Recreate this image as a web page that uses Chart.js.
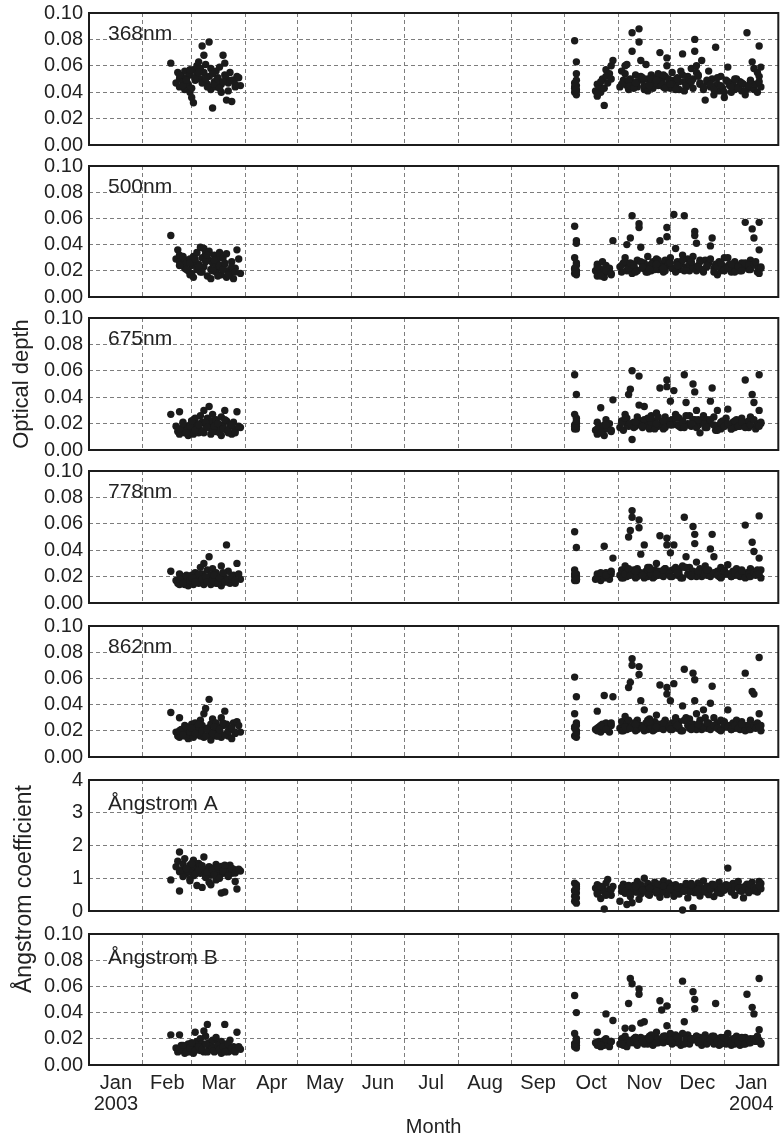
<!DOCTYPE html>
<html>
<head>
<meta charset="utf-8">
<script src="https://cdn.jsdelivr.net/npm/chart.js@4/dist/chart.umd.min.js"></script>
<style>
  html, body { margin: 0; padding: 0; background: #fff; }
  #wrap { position: relative; width: 782px; height: 1140px; overflow: hidden; }
  #wrap canvas { position: absolute; left: 0; }
  .ytitle {
    position: absolute;
    font-family: "Liberation Sans", Arial, Helvetica, sans-serif;
    color: #222;
    white-space: nowrap;
    transform: translate(-50%, -50%) rotate(-90deg);
  }
</style>
</head>
<body>
<div id="wrap"></div>
<script>
// Observation days, counted from 1 Jan 2003 (day 0)
const obsDays = [
  47,50,51,52,52,53,54,55,55,56,
  57,58,58,59,60,60,61,62,62,63,
  64,64,65,66,66,67,68,69,69,70,
  70,71,72,73,73,74,75,76,76,77,
  78,79,79,80,81,82,83,84,85,87,
  279,279,279,279,280,280,280,280,280,280,
  291,292,292,293,294,295,296,296,297,298,
  299,300,301,305,306,307,308,309,309,310,
  311,312,312,313,314,315,316,316,317,318,
  319,320,321,322,323,324,325,326,327,328,
  329,330,331,332,332,333,334,335,336,337,
  338,339,340,341,342,343,344,345,346,347,
  348,348,349,350,351,352,353,354,355,356,
  357,358,359,360,361,362,363,364,365,366,
  367,368,369,370,371,372,373,374,375,376,
  377,378,379,380,381,382,384,385,385,386,
  52,54,56,58,59,61,63,65,67,68,
  71,72,74,75,77,78,80,82,84,86,
  279,280,292,294,297,300,306,308,310,311,
  313,315,317,319,321,323,325,327,329,331,
  333,335,337,339,341,343,345,347,349,351,
  353,355,357,359,361,363,365,367,369,371,
  373,375,377,379,380,382,383,384,386,385,
  314,318,322,326,330,334,338,342,346,350
];

// Aerosol optical depth per wavelength
const tau368 = [
  0.062,0.047,0.055,0.050,0.044,0.052,0.048,0.056,0.042,0.051,
  0.046,0.053,0.040,0.036,0.057,0.032,0.049,0.060,0.054,0.063,
  0.058,0.050,0.075,0.068,0.055,0.061,0.046,0.078,0.052,0.058,
  0.042,0.028,0.048,0.056,0.044,0.051,0.059,0.046,0.040,0.068,
  0.062,0.050,0.034,0.047,0.055,0.033,0.049,0.044,0.052,0.045,
  0.079,0.047,0.043,0.040,0.063,0.054,0.049,0.045,0.041,0.038,
  0.041,0.046,0.037,0.044,0.040,0.050,0.043,0.030,0.057,0.047,
  0.054,0.060,0.064,0.044,0.056,0.049,0.060,0.061,0.045,0.042,
  0.050,0.085,0.071,0.047,0.053,0.044,0.088,0.078,0.064,0.049,
  0.042,0.061,0.050,0.046,0.053,0.043,0.048,0.051,0.045,0.070,
  0.049,0.044,0.052,0.066,0.060,0.047,0.043,0.055,0.049,0.045,
  0.051,0.042,0.056,0.069,0.048,0.044,0.052,0.046,0.058,0.050,
  0.080,0.071,0.060,0.053,0.047,0.064,0.042,0.034,0.048,0.056,
  0.044,0.050,0.038,0.074,0.046,0.041,0.052,0.043,0.036,0.049,
  0.059,0.045,0.040,0.047,0.042,0.050,0.044,0.048,0.041,0.046,
  0.038,0.085,0.043,0.047,0.063,0.058,0.055,0.075,0.052,0.059,
  0.053,0.045,0.049,0.057,0.043,0.051,0.055,0.047,0.050,0.044,
  0.054,0.046,0.050,0.043,0.048,0.053,0.041,0.049,0.046,0.051,
  0.044,0.042,0.039,0.048,0.052,0.050,0.046,0.054,0.049,0.045,
  0.043,0.048,0.052,0.045,0.041,0.050,0.047,0.054,0.046,0.043,
  0.050,0.046,0.042,0.048,0.053,0.045,0.049,0.043,0.055,0.046,
  0.044,0.049,0.046,0.042,0.051,0.045,0.040,0.048,0.044,0.050,
  0.043,0.047,0.041,0.045,0.049,0.042,0.046,0.040,0.044,0.048,
  0.047,0.051,0.045,0.049,0.053,0.046,0.050,0.041,0.048,0.052
];
const tau500 = [
  0.047,0.029,0.036,0.027,0.032,0.025,0.030,0.022,0.028,0.026,
  0.020,0.029,0.017,0.024,0.031,0.015,0.027,0.034,0.021,0.025,
  0.038,0.019,0.030,0.037,0.023,0.033,0.016,0.028,0.035,0.021,
  0.014,0.026,0.032,0.019,0.024,0.029,0.034,0.017,0.022,0.030,
  0.025,0.015,0.033,0.020,0.018,0.027,0.014,0.022,0.036,0.018,
  0.054,0.030,0.022,0.018,0.043,0.041,0.026,0.024,0.020,0.017,
  0.020,0.025,0.016,0.022,0.018,0.027,0.015,0.021,0.024,0.019,
  0.022,0.017,0.043,0.023,0.019,0.026,0.030,0.040,0.020,0.024,
  0.045,0.062,0.018,0.025,0.021,0.028,0.056,0.053,0.038,0.022,
  0.026,0.019,0.031,0.024,0.020,0.027,0.023,0.029,0.021,0.043,
  0.025,0.019,0.028,0.053,0.046,0.024,0.030,0.022,0.063,0.037,
  0.027,0.021,0.025,0.032,0.062,0.023,0.029,0.020,0.026,0.031,
  0.050,0.047,0.041,0.024,0.028,0.021,0.019,0.028,0.023,0.026,
  0.039,0.045,0.022,0.025,0.017,0.027,0.020,0.024,0.030,0.022,
  0.030,0.025,0.019,0.023,0.027,0.021,0.024,0.020,0.026,0.022,
  0.057,0.024,0.021,0.028,0.052,0.045,0.023,0.057,0.036,0.023,
  0.024,0.031,0.021,0.026,0.018,0.029,0.023,0.019,0.027,0.032,
  0.020,0.028,0.016,0.024,0.021,0.026,0.017,0.023,0.019,0.029,
  0.021,0.019,0.023,0.016,0.020,0.018,0.024,0.027,0.022,0.026,
  0.024,0.020,0.027,0.022,0.019,0.025,0.021,0.028,0.023,0.020,
  0.026,0.022,0.019,0.024,0.028,0.021,0.025,0.023,0.020,0.027,
  0.021,0.024,0.029,0.019,0.023,0.026,0.020,0.022,0.025,0.019,
  0.023,0.020,0.026,0.024,0.021,0.025,0.027,0.019,0.022,0.018,
  0.019,0.023,0.021,0.025,0.022,0.026,0.024,0.020,0.027,0.023
];
const tau675 = [
  0.027,0.018,0.014,0.029,0.012,0.016,0.021,0.013,0.018,0.015,
  0.011,0.019,0.014,0.022,0.017,0.012,0.024,0.016,0.020,0.013,
  0.026,0.015,0.021,0.030,0.013,0.019,0.024,0.033,0.017,0.022,
  0.012,0.027,0.018,0.023,0.014,0.020,0.016,0.025,0.011,0.019,
  0.030,0.015,0.022,0.013,0.018,0.012,0.021,0.015,0.029,0.017,
  0.057,0.027,0.019,0.016,0.042,0.024,0.021,0.018,0.016,0.020,
  0.015,0.021,0.012,0.018,0.032,0.014,0.019,0.011,0.023,0.016,
  0.020,0.014,0.038,0.017,0.022,0.015,0.027,0.019,0.024,0.042,
  0.046,0.060,0.008,0.021,0.018,0.025,0.056,0.034,0.022,0.017,
  0.033,0.020,0.024,0.016,0.026,0.019,0.022,0.028,0.018,0.047,
  0.021,0.016,0.025,0.053,0.048,0.020,0.037,0.023,0.045,0.027,
  0.019,0.024,0.017,0.022,0.057,0.036,0.020,0.026,0.018,0.050,
  0.044,0.023,0.030,0.019,0.013,0.021,0.026,0.017,0.023,0.020,
  0.037,0.047,0.025,0.015,0.030,0.019,0.016,0.022,0.018,0.024,
  0.031,0.019,0.016,0.021,0.017,0.023,0.020,0.018,0.024,0.019,
  0.053,0.021,0.017,0.025,0.042,0.036,0.020,0.057,0.030,0.020,
  0.016,0.020,0.013,0.018,0.022,0.015,0.019,0.014,0.021,0.017,
  0.014,0.018,0.020,0.013,0.016,0.023,0.015,0.019,0.013,0.018,
  0.018,0.022,0.016,0.013,0.019,0.015,0.021,0.024,0.018,0.020,
  0.017,0.022,0.019,0.023,0.018,0.021,0.016,0.025,0.020,0.017,
  0.022,0.019,0.024,0.018,0.021,0.026,0.019,0.023,0.017,0.021,
  0.020,0.017,0.023,0.019,0.015,0.021,0.018,0.020,0.016,0.022,
  0.018,0.021,0.017,0.022,0.019,0.023,0.016,0.019,0.021,0.018,
  0.021,0.018,0.024,0.020,0.022,0.019,0.025,0.017,0.020,0.023
];
const tau778 = [
  0.024,0.017,0.015,0.022,0.014,0.018,0.016,0.020,0.014,0.017,
  0.013,0.019,0.015,0.021,0.016,0.014,0.023,0.017,0.020,0.015,
  0.027,0.016,0.022,0.030,0.014,0.019,0.025,0.035,0.017,0.021,
  0.014,0.026,0.018,0.023,0.015,0.020,0.017,0.028,0.013,0.022,
  0.019,0.044,0.016,0.024,0.015,0.018,0.021,0.015,0.030,0.018,
  0.054,0.025,0.020,0.017,0.042,0.022,0.019,0.018,0.021,0.017,
  0.018,0.022,0.019,0.020,0.017,0.021,0.043,0.019,0.023,0.020,
  0.018,0.022,0.034,0.021,0.025,0.019,0.028,0.023,0.020,0.050,
  0.055,0.070,0.065,0.023,0.019,0.026,0.063,0.057,0.037,0.021,
  0.044,0.024,0.020,0.027,0.022,0.019,0.025,0.030,0.021,0.051,
  0.023,0.020,0.026,0.049,0.044,0.022,0.038,0.025,0.044,0.027,
  0.021,0.025,0.019,0.028,0.065,0.035,0.022,0.027,0.020,0.058,
  0.052,0.045,0.031,0.022,0.026,0.020,0.024,0.028,0.021,0.025,
  0.041,0.052,0.035,0.022,0.024,0.020,0.027,0.021,0.025,0.022,
  0.029,0.022,0.020,0.024,0.021,0.026,0.022,0.020,0.025,0.021,
  0.059,0.023,0.020,0.026,0.046,0.039,0.022,0.066,0.034,0.025,
  0.018,0.015,0.021,0.017,0.019,0.016,0.022,0.018,0.020,0.016,
  0.017,0.021,0.015,0.019,0.023,0.016,0.018,0.020,0.017,0.022,
  0.022,0.018,0.020,0.023,0.021,0.024,0.019,0.022,0.026,0.021,
  0.025,0.020,0.023,0.019,0.027,0.022,0.020,0.024,0.021,0.026,
  0.023,0.020,0.025,0.022,0.019,0.027,0.021,0.024,0.020,0.023,
  0.022,0.025,0.020,0.023,0.021,0.019,0.024,0.022,0.020,0.023,
  0.021,0.024,0.019,0.022,0.020,0.023,0.021,0.025,0.019,0.022,
  0.024,0.021,0.026,0.022,0.025,0.020,0.023,0.027,0.021,0.024
];
const tau862 = [
  0.034,0.019,0.016,0.030,0.015,0.021,0.018,0.024,0.016,0.020,
  0.014,0.022,0.017,0.025,0.019,0.015,0.026,0.020,0.023,0.017,
  0.028,0.016,0.024,0.033,0.015,0.037,0.022,0.044,0.018,0.025,
  0.013,0.029,0.020,0.026,0.016,0.023,0.019,0.030,0.015,0.024,
  0.035,0.017,0.025,0.016,0.021,0.014,0.026,0.018,0.027,0.019,
  0.061,0.033,0.022,0.016,0.046,0.026,0.024,0.020,0.018,0.015,
  0.021,0.035,0.020,0.023,0.019,0.025,0.047,0.022,0.026,0.021,
  0.019,0.024,0.046,0.022,0.027,0.020,0.031,0.025,0.021,0.053,
  0.057,0.075,0.070,0.025,0.020,0.028,0.069,0.063,0.043,0.023,
  0.036,0.026,0.021,0.029,0.024,0.020,0.027,0.032,0.022,0.055,
  0.025,0.021,0.028,0.053,0.048,0.023,0.043,0.026,0.056,0.030,
  0.022,0.027,0.020,0.039,0.067,0.030,0.024,0.029,0.021,0.064,
  0.059,0.043,0.033,0.023,0.028,0.021,0.036,0.030,0.022,0.026,
  0.041,0.054,0.030,0.023,0.026,0.021,0.028,0.022,0.027,0.023,
  0.036,0.024,0.021,0.026,0.022,0.028,0.023,0.021,0.027,0.022,
  0.064,0.024,0.021,0.028,0.050,0.048,0.023,0.076,0.033,0.024,
  0.020,0.017,0.023,0.019,0.022,0.018,0.025,0.020,0.016,0.021,
  0.018,0.023,0.016,0.021,0.026,0.017,0.020,0.022,0.019,0.024,
  0.023,0.019,0.022,0.024,0.021,0.026,0.020,0.023,0.028,0.022,
  0.026,0.021,0.024,0.020,0.028,0.023,0.021,0.025,0.022,0.027,
  0.024,0.021,0.026,0.023,0.020,0.028,0.022,0.025,0.021,0.024,
  0.023,0.026,0.021,0.024,0.022,0.020,0.025,0.023,0.021,0.024,
  0.022,0.025,0.020,0.023,0.021,0.024,0.022,0.026,0.020,0.023,
  0.025,0.022,0.027,0.023,0.026,0.021,0.024,0.028,0.022,0.025
];
// Ångström turbidity parameters
const angA = [
  0.95,1.35,1.52,1.80,0.61,1.25,1.44,1.12,1.60,1.30,
  1.18,1.40,0.98,1.27,1.55,1.08,1.33,1.20,0.78,1.45,
  1.15,1.38,0.72,1.28,1.65,1.05,1.22,0.88,1.35,1.10,
  0.80,1.30,1.18,1.42,0.95,1.25,1.08,0.55,1.36,1.15,
  0.58,1.32,1.20,1.05,1.40,1.15,1.28,0.90,0.67,1.22,
  0.85,0.62,0.45,0.30,0.75,0.68,0.55,0.80,0.40,0.24,
  0.70,0.52,0.80,0.64,0.38,0.72,0.06,0.58,0.85,0.96,
  0.66,0.48,0.75,0.30,0.60,0.82,0.54,0.70,0.20,0.62,
  0.44,0.68,0.25,0.78,0.58,0.90,0.36,0.66,0.52,0.72,
  1.00,0.60,0.84,0.48,0.72,0.64,0.88,0.55,0.76,0.42,
  0.68,0.92,0.58,0.74,0.50,0.86,0.62,0.70,0.45,0.80,
  0.65,0.52,0.74,0.03,0.60,0.78,0.40,0.68,0.84,0.10,
  0.56,0.72,0.62,0.86,0.46,0.70,0.92,0.58,0.76,0.50,
  0.66,0.82,0.44,0.70,0.60,0.88,0.54,0.74,0.64,0.80,
  1.31,0.70,0.58,0.84,0.48,0.76,0.90,0.62,0.72,0.40,
  0.66,0.82,0.56,0.74,0.88,0.62,0.70,0.90,0.72,0.84,
  1.20,1.05,1.30,0.92,1.45,1.12,1.25,1.38,1.02,1.18,
  1.26,1.10,1.34,1.00,1.22,1.40,1.08,1.30,1.16,1.28,
  0.62,0.70,0.56,0.75,0.48,0.66,0.72,0.60,0.78,0.54,
  0.70,0.58,0.80,0.64,0.52,0.74,0.68,0.82,0.60,0.72,
  0.66,0.78,0.55,0.70,0.62,0.84,0.58,0.74,0.66,0.76,
  0.60,0.72,0.68,0.80,0.56,0.70,0.64,0.78,0.62,0.74,
  0.70,0.60,0.76,0.66,0.80,0.72,0.64,0.58,0.68,0.78,
  0.74,0.64,0.70,0.60,0.76,0.68,0.72,0.62,0.80,0.66
];
const angB = [
  0.023,0.013,0.010,0.023,0.012,0.015,0.011,0.014,0.009,0.012,
  0.016,0.010,0.013,0.011,0.015,0.009,0.025,0.012,0.018,0.014,
  0.020,0.011,0.016,0.026,0.010,0.022,0.031,0.013,0.017,0.012,
  0.015,0.019,0.010,0.021,0.013,0.016,0.011,0.018,0.009,0.014,
  0.031,0.012,0.016,0.010,0.019,0.011,0.014,0.010,0.025,0.012,
  0.053,0.024,0.016,0.014,0.040,0.020,0.018,0.015,0.017,0.013,
  0.017,0.025,0.015,0.018,0.014,0.016,0.019,0.015,0.039,0.017,
  0.014,0.018,0.034,0.016,0.020,0.015,0.028,0.018,0.014,0.047,
  0.066,0.062,0.028,0.017,0.021,0.015,0.058,0.054,0.032,0.018,
  0.033,0.020,0.016,0.022,0.018,0.015,0.021,0.025,0.017,0.049,
  0.042,0.017,0.022,0.045,0.030,0.018,0.024,0.016,0.020,0.023,
  0.017,0.021,0.015,0.064,0.033,0.019,0.023,0.017,0.020,0.056,
  0.050,0.043,0.022,0.017,0.021,0.015,0.019,0.023,0.016,0.020,
  0.018,0.022,0.016,0.047,0.020,0.015,0.021,0.017,0.019,0.016,
  0.024,0.018,0.015,0.020,0.016,0.022,0.017,0.015,0.019,0.016,
  0.021,0.054,0.017,0.020,0.044,0.039,0.018,0.066,0.027,0.017,
  0.012,0.015,0.010,0.013,0.017,0.011,0.014,0.012,0.016,0.010,
  0.013,0.011,0.015,0.012,0.014,0.010,0.016,0.013,0.011,0.014,
  0.016,0.019,0.017,0.015,0.020,0.018,0.016,0.022,0.019,0.017,
  0.020,0.018,0.021,0.016,0.019,0.023,0.017,0.020,0.018,0.022,
  0.019,0.017,0.021,0.018,0.024,0.020,0.016,0.019,0.022,0.018,
  0.020,0.017,0.019,0.022,0.018,0.016,0.021,0.019,0.017,0.020,
  0.018,0.021,0.016,0.019,0.017,0.020,0.018,0.022,0.016,0.019,
  0.021,0.018,0.020,0.017,0.022,0.019,0.021,0.016,0.020,0.018
];

// Axis ticks and labels
const monthStarts = [0,31,59,90,120,151,181,212,243,273,304,334,365,396];
const monthLabels = ['Jan','Feb','Mar','Apr','May','Jun','Jul','Aug','Sep','Oct','Nov','Dec','Jan'];
const yearLabels  = ['2003','','','','','','','','','','','','2004'];
const depthTicks  = [0, 0.02, 0.04, 0.06, 0.08, 0.10];
const angATicks   = [0, 1, 2, 3, 4];

const FONT = '"Liberation Sans", Arial, Helvetica, sans-serif';
const INK = '#222';
const GRID = '#7d7d7d';

// Panel layout (pixel positions of each plot frame)
const panels = [
  { name: '368nm',       values: tau368, ticks: depthTicks, max: 0.10, dec: 2, top: 13,  bottom: 145,  labelDy: 27 },
  { name: '500nm',       values: tau500, ticks: depthTicks, max: 0.10, dec: 2, top: 166, bottom: 297,  labelDy: 27 },
  { name: '675nm',       values: tau675, ticks: depthTicks, max: 0.10, dec: 2, top: 318, bottom: 450,  labelDy: 27 },
  { name: '778nm',       values: tau778, ticks: depthTicks, max: 0.10, dec: 2, top: 471, bottom: 603,  labelDy: 27 },
  { name: '862nm',       values: tau862, ticks: depthTicks, max: 0.10, dec: 2, top: 626, bottom: 757,  labelDy: 27 },
  { name: 'Ångstrom A',  values: angA,   ticks: angATicks,  max: 4,    dec: 0, top: 780, bottom: 911,  labelDy: 30 },
  { name: 'Ångstrom B',  values: angB,   ticks: depthTicks, max: 0.10, dec: 2, top: 934, bottom: 1065, labelDy: 30 }
];

const midMonths = monthStarts.slice(0, -1).map((s, i) => (s + monthStarts[i + 1]) / 2);
const xTickValues = monthStarts.concat(midMonths).sort((a, b) => a - b);

const wrap = document.getElementById('wrap');
const PAD = 16;
const PLOT_LEFT = 89, PLOT_RIGHT = 779, FULL_W = 782, FULL_H = 1140;

// Frame around each plot plus its panel caption
const framePlugin = {
  id: 'frame',
  afterDatasetsDraw(chart, args, opts) {
    const { ctx, chartArea: a } = chart;
    ctx.save();
    ctx.strokeStyle = '#1c1c1c';
    ctx.lineWidth = 2;
    ctx.strokeRect(a.left, a.top, a.right - a.left, a.bottom - a.top);
    ctx.fillStyle = INK;
    ctx.font = '21px ' + FONT;
    ctx.textBaseline = 'alphabetic';
    ctx.textAlign = 'left';
    ctx.fillText(opts.text, a.left + 19, a.top + opts.dy);
    ctx.restore();
  }
};

panels.forEach((p, i) => {
  const last = i === panels.length - 1;
  const cTop = p.top - PAD;
  const cH = last ? FULL_H - cTop : (p.bottom - p.top) + 2 * PAD;
  const cv = document.createElement('canvas');
  cv.width = FULL_W; cv.height = cH;
  cv.style.width = FULL_W + 'px'; cv.style.height = cH + 'px';
  cv.style.top = cTop + 'px';
  wrap.appendChild(cv);

  new Chart(cv, {
    type: 'scatter',
    data: {
      datasets: [{
        data: obsDays.map((d, k) => ({ x: d, y: p.values[k] })),
        pointRadius: 3.7,
        pointHoverRadius: 3.7,
        pointBorderWidth: 0,
        backgroundColor: '#1b1b1b',
        borderColor: '#1b1b1b',
        clip: false
      }]
    },
    options: {
      responsive: false,
      animation: false,
      events: [],
      layout: { padding: { left: 0, right: FULL_W - PLOT_RIGHT, top: PAD, bottom: last ? 0 : PAD } },
      plugins: {
        legend: { display: false },
        tooltip: { enabled: false },
        frame: { text: p.name, dy: p.labelDy }
      },
      scales: {
        x: {
          type: 'linear',
          min: 0,
          max: 396,
          afterBuildTicks: s => { s.ticks = xTickValues.map(v => ({ value: v })); },
          afterFit: s => {
            s.height = last ? FULL_H - p.bottom : 0;
            s.paddingLeft = 0;
            s.paddingRight = 0;
          },
          grid: {
            drawTicks: false,
            lineWidth: 1,
            color: c => {
              const v = c.tick ? c.tick.value : null;
              return (monthStarts.includes(v) && v !== 0 && v !== 396) ? GRID : 'rgba(0,0,0,0)';
            }
          },
          border: { display: false, dash: [4, 3] },
          ticks: {
            display: last,
            autoSkip: false,
            maxRotation: 0,
            padding: 8,
            color: INK,
            font: { family: FONT, size: 20, lineHeight: 1.05 },
            callback: v => {
              const m = midMonths.indexOf(v);
              if (m < 0) return '';
              return yearLabels[m] ? [monthLabels[m], yearLabels[m]] : monthLabels[m];
            }
          },
          title: {
            display: last,
            text: 'Month',
            color: INK,
            font: { family: FONT, size: 20, lineHeight: 1.2 },
            padding: { top: 0, bottom: 1 }
          }
        },
        y: {
          min: 0,
          max: p.max,
          afterBuildTicks: s => { s.ticks = p.ticks.map(v => ({ value: v })); },
          afterFit: s => { s.width = PLOT_LEFT; },
          grid: {
            drawTicks: false,
            lineWidth: 1,
            color: c => {
              const v = c.tick ? c.tick.value : null;
              return (v === 0 || v === p.max) ? 'rgba(0,0,0,0)' : GRID;
            }
          },
          border: { display: false, dash: [4, 3] },
          ticks: {
            autoSkip: false,
            padding: 6,
            color: INK,
            font: { family: FONT, size: 20, lineHeight: 1.0 },
            callback: v => Number(v).toFixed(p.dec)
          }
        }
      }
    },
    plugins: [framePlugin]
  });
});

// Shared axis titles
function addTitle(text, x, y, size) {
  const d = document.createElement('div');
  d.className = 'ytitle';
  d.textContent = text;
  d.style.fontSize = size + 'px';
  d.style.left = x + 'px';
  d.style.top = y + 'px';
  wrap.appendChild(d);
}
addTitle('Optical depth', 21, 384, 22);
addTitle('Ångstrom coefficient', 23, 889, 23);
</script>
</body>
</html>
